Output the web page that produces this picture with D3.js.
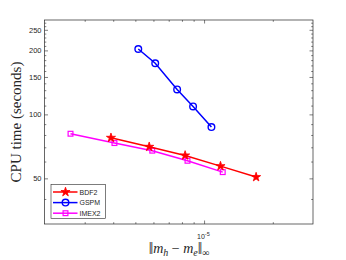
<!DOCTYPE html>
<html>
<script src="https://d3js.org/d3.v7.min.js"></script>

<head>
    <style>
        body {
            margin: 0;
            background-color: white;
        }

        svg {
            display: block;
        }
    </style>
</head>

<body>
</body>
<script>
    const width = 346,
        height = 260;
    const svg = d3.select("body").append("svg").attr("width", width).attr("height", height);

    // error in max norm vs CPU time
    const errBDF2 = [3.91e-6, 5.75e-6, 8.26e-6, 1.18e-5, 1.69e-5];
    const timeBDF2 = [77.6, 70.4, 64.1, 57.1, 50.7];
    const errGSPM = [5.15e-6, 6.11e-6, 7.62e-6, 8.95e-6, 1.077e-5];
    const timeGSPM = [203, 174, 131, 109, 87.2];
    const errIMEX2 = [2.6e-6, 4.05e-6, 5.93e-6, 8.46e-6, 1.207e-5];
    const timeIMEX2 = [81.1, 73.3, 67.5, 60.5, 53.5];

    const yTicks = [50, 100, 150, 200, 250];
    const yMinor = d3.range(40, 280, 10);
    const xTicks = [1e-5];
    const xMinor = [3e-6, 4e-6, 5e-6, 6e-6, 7e-6, 8e-6, 9e-6, 2e-5];

    const plotL = 44.5, plotR = 313, plotT = 20, plotB = 224;
    const x = d3.scaleLog().domain([2e-6, 3e-5]).range([plotL, plotR]);
    const y = d3.scaleLog().domain([30.5, 278]).range([plotB, plotT]);

    const axisColor = "#262626";

    function drawAxes() {
        const g = svg.append("g").attr("font-family", "Liberation Sans, Arial, sans-serif");
        const yMinorOnly = yMinor.filter(v => !yTicks.includes(v));

        // ticks on all four sides, pointing inward
        const parts = [
            [d3.axisLeft(y).tickValues(yTicks).tickSize(-3.5).tickFormat(d3.format("d")), `translate(${plotL},0)`],
            [d3.axisLeft(y).tickValues(yMinorOnly).tickSize(-1.8).tickFormat(""), `translate(${plotL},0)`],
            [d3.axisRight(y).tickValues(yTicks).tickSize(-3.5).tickFormat(""), `translate(${plotR},0)`],
            [d3.axisRight(y).tickValues(yMinorOnly).tickSize(-1.8).tickFormat(""), `translate(${plotR},0)`],
            [d3.axisBottom(x).tickValues(xTicks).tickSize(-3.5).tickFormat(""), `translate(0,${plotB})`],
            [d3.axisBottom(x).tickValues(xMinor).tickSize(-1.8).tickFormat(""), `translate(0,${plotB})`],
            [d3.axisTop(x).tickValues(xTicks).tickSize(-3.5).tickFormat(""), `translate(0,${plotT})`],
            [d3.axisTop(x).tickValues(xMinor).tickSize(-1.8).tickFormat(""), `translate(0,${plotT})`]
        ];
        parts.forEach(([ax, tr]) => {
            const a = g.append("g").attr("transform", tr).call(ax);
            a.select(".domain").remove();
            a.selectAll("line").attr("stroke", axisColor).attr("stroke-width", 0.6);
            a.selectAll("text").attr("fill", axisColor).attr("font-size", "7.5px").attr("font-family", null);
        });

        g.append("rect")
            .attr("x", plotL).attr("y", plotT)
            .attr("width", plotR - plotL).attr("height", plotB - plotT)
            .attr("fill", "none").attr("stroke", axisColor).attr("stroke-width", 0.7);

        // 10^-5 label
        const lbl = g.append("text")
            .attr("x", x(1e-5) - 7).attr("y", 239)
            .attr("fill", axisColor)
            .attr("font-size", "7px");
        lbl.append("tspan").text("10");
        lbl.append("tspan").attr("dy", -3.5).attr("font-size", "5.5px").text("-5");
    }

    function drawSeries(xs, ys, color, marker) {
        const pts = xs.map((v, i) => [x(v), y(ys[i])]);
        svg.append("path")
            .attr("d", d3.line()(pts))
            .attr("fill", "none")
            .attr("stroke", color)
            .attr("stroke-width", 1.5);
        pts.forEach(p => drawMarker(p[0], p[1], color, marker));
    }

    function drawMarker(cx, cy, color, marker) {
        if (marker === "star") {
            svg.append("path")
                .attr("d", d3.symbol(d3.symbolStar).size(26)())
                .attr("transform", `translate(${cx},${cy})`)
                .attr("fill", color)
                .attr("stroke", color)
                .attr("stroke-width", 0.8);
        } else if (marker === "circle") {
            svg.append("circle")
                .attr("cx", cx).attr("cy", cy).attr("r", 3.3)
                .attr("fill", "none")
                .attr("stroke", color)
                .attr("stroke-width", 1.4);
        } else {
            svg.append("rect")
                .attr("x", cx - 2.4).attr("y", cy - 2.4)
                .attr("width", 4.8).attr("height", 4.8)
                .attr("fill", "none")
                .attr("stroke", color)
                .attr("stroke-width", 1.2);
        }
    }

    function drawLegend() {
        const items = [
            { name: "BDF2", color: "red", marker: "star" },
            { name: "GSPM", color: "blue", marker: "circle" },
            { name: "IMEX2", color: "magenta", marker: "square" }
        ];
        svg.append("rect")
            .attr("x", 51).attr("y", 184.5)
            .attr("width", 54.5).attr("height", 34)
            .attr("fill", "white")
            .attr("stroke", axisColor)
            .attr("stroke-width", 0.6);
        items.forEach((d, i) => {
            const ly = 192 + i * 10.6;
            svg.append("line")
                .attr("x1", 53).attr("x2", 77.5)
                .attr("y1", ly).attr("y2", ly)
                .attr("stroke", d.color)
                .attr("stroke-width", 1.5);
            drawMarker(65.5, ly, d.color, d.marker);
            svg.append("text")
                .attr("x", 79.5).attr("y", ly + 2.6)
                .attr("font-family", "Liberation Sans, Arial, sans-serif")
                .attr("font-size", "7px")
                .attr("fill", axisColor)
                .text(d.name);
        });
    }

    function drawLabels() {
        svg.append("text")
            .attr("transform", "translate(21,122) rotate(-90)")
            .attr("text-anchor", "middle")
            .attr("font-family", "Liberation Serif, Times New Roman, serif")
            .attr("font-size", "15px")
            .attr("fill", axisColor)
            .text("CPU time (seconds)");

        // ||m_h - m_e||_inf, baseline kept at 252.5 apart from the subscripts
        const t = svg.append("text")
            .attr("x", 179).attr("y", 252.5)
            .attr("text-anchor", "middle")
            .attr("font-family", "Liberation Serif, Times New Roman, serif")
            .attr("font-size", "14px")
            .attr("fill", axisColor);
        t.append("tspan").attr("font-size", "16px").attr("dy", 1).text("\u2016");
        t.append("tspan").attr("dy", -1).attr("font-style", "italic").text("m");
        t.append("tspan").attr("font-style", "italic").attr("font-size", "10px").attr("dy", 3).text("h");
        t.append("tspan").attr("dy", -3).text(" \u2212 ");
        t.append("tspan").attr("font-style", "italic").text("m");
        t.append("tspan").attr("font-style", "italic").attr("font-size", "10px").attr("dy", 3).text("e");
        t.append("tspan").attr("font-size", "16px").attr("dy", -2).text("\u2016");
        t.append("tspan").attr("font-size", "10px").attr("dy", 2).text("\u221e");
    }

    drawAxes();
    drawSeries(errGSPM, timeGSPM, "blue", "circle");
    drawSeries(errIMEX2, timeIMEX2, "magenta", "square");
    drawSeries(errBDF2, timeBDF2, "red", "star");
    drawLegend();
    drawLabels();
</script>

</html>
